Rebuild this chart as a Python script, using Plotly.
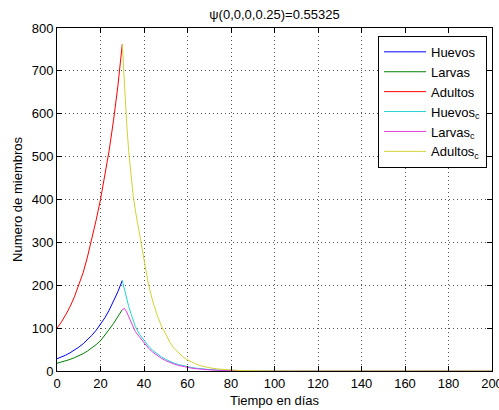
import plotly.graph_objects as go

# ---- data ----
t_grow = [0, 2, 4, 6, 8, 10, 12, 14, 16, 18, 20, 22, 24, 26, 28, 30]
huevos = [28.5, 32.5, 37, 42.5, 48.5, 55.5, 63.5, 72.5, 83, 95, 109, 124, 142, 162, 185, 211]
larvas = [18, 20.6, 23.5, 27, 31, 35.5, 40.5, 46.5, 53.5, 61.5, 70.5, 83, 97, 111, 126, 143]
adultos = [100, 114, 131, 150, 173, 199, 229, 266, 307, 352, 400, 455, 515, 585, 665, 762]

t_decay = [30, 31, 32, 33, 34, 35, 36, 38, 40, 42, 44, 46, 48, 50, 52, 54, 56, 58, 60,
           62, 64, 66, 68, 70, 74, 78, 82, 86, 90, 100, 120, 140, 160, 180, 200]
huevos_c = [211, 188, 168, 150, 134, 117, 104, 85, 71, 58.5, 48, 40, 33, 27, 22, 18, 14.8, 12, 9.8,
            8, 6.5, 5.2, 4.2, 3.4, 2.2, 1.4, 0.9, 0.6, 0.4, 0.1, 0, 0, 0, 0, 0]
larvas_c = [143, 146, 138, 127, 112, 101, 92, 79, 65, 53.5, 44, 36, 29.5, 24, 19.5, 15.8, 12.8, 10.3, 8.3,
            6.6, 5.3, 4.2, 3.4, 2.7, 1.7, 1.1, 0.7, 0.45, 0.3, 0.08, 0, 0, 0, 0, 0]
adultos_c = [762, 660, 580, 510, 455, 410, 375, 315, 262, 203, 163, 131, 105, 84, 66, 52, 41, 32.5, 26,
             20.5, 16, 12.5, 9.8, 7.6, 4.6, 2.8, 1.7, 1.0, 0.6, 0.15, 0, 0, 0, 0, 0]

x_ticks = [0, 20, 40, 60, 80, 100, 120, 140, 160, 180, 200]
y_ticks = [0, 100, 200, 300, 400, 500, 600, 700, 800]

FONT = "Liberation Sans, Arial, sans-serif"

fig = go.Figure()
series = [
    ("Huevos", t_grow, huevos, "#0000FF"),
    ("Larvas", t_grow, larvas, "#008000"),
    ("Adultos", t_grow, adultos, "#FF0000"),
    ("Huevos<sub>c</sub>", t_decay, huevos_c, "#22D3D3"),
    ("Larvas<sub>c</sub>", t_decay, larvas_c, "#E03CE0"),
    ("Adultos<sub>c</sub>", t_decay, adultos_c, "#D2D236"),
]
for name, xs, ys, col in series:
    fig.add_trace(go.Scatter(x=xs, y=ys, mode="lines", name=name,
                             line=dict(color=col, width=1)))

axis_common = dict(
    showline=True, linecolor="black", linewidth=1, mirror="ticks",
    ticks="inside", ticklen=5, tickcolor="black", tickwidth=1,
    showgrid=True, gridcolor="#555555", griddash="1px,3px", gridwidth=1,
    zeroline=False, tickfont=dict(family=FONT, size=13, color="black"),
    ticklabeloverflow="allow", automargin=False,
)

fig.update_layout(
    width=499, height=410,
    margin=dict(l=57, r=7, t=28, b=39),
    paper_bgcolor="white", plot_bgcolor="white",
    font=dict(family=FONT, size=13, color="black"),
    title=dict(text="ψ(0,0,0,0.25)=0.55325", x=0.5, xref="paper",
               y=1 - 14 / 410, yref="container", yanchor="middle",
               font=dict(family=FONT, size=13, color="black")),
    xaxis=dict(range=[0, 200], tickvals=x_ticks,
               title=dict(text="Tiempo en días", standoff=6,
                          font=dict(family=FONT, size=13, color="black")),
               **axis_common),
    yaxis=dict(range=[0, 800], tickvals=y_ticks,
               title=dict(text="Numero de miembros", standoff=6,
                          font=dict(family=FONT, size=13, color="black")),
               **axis_common),
    legend=dict(x=0.9885, y=0.977, xanchor="right", yanchor="top",
                bgcolor="white", bordercolor="black", borderwidth=1,
                itemwidth=42, tracegroupgap=4,
                font=dict(family=FONT, size=13, color="black")),
    showlegend=True,
)

fig.write_html("out.html")
